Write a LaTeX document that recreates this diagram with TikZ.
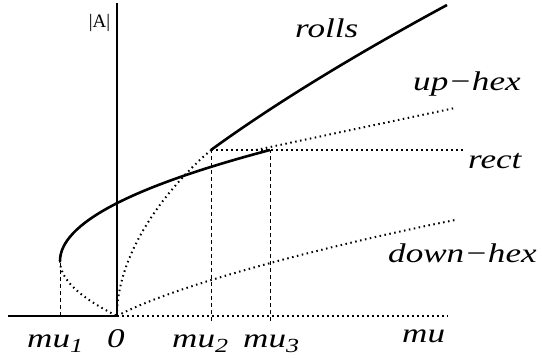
\documentclass[tikz,border=0pt]{standalone}
\usepackage{graphicx}
\usepackage{fontspec}
\setmainfont{Liberation Serif}
\newcommand\mysub[1]{\raisebox{-5pt}{\fontsize{20}{20}\selectfont #1}}
\newcommand\wide[1]{\scalebox{1.3}[1]{#1}}
\tikzset{
  solidcurve/.style={line width=2.6pt},
  dotcurve/.style={line width=2pt, dash pattern=on 1.5pt off 3.5pt},
  guide/.style={line width=0.9pt, dash pattern=on 4pt off 3pt},
  lab/.style={anchor=base west, inner sep=0pt, font=\fontsize{27}{30}\selectfont\itshape}
}
\begin{document}
\begin{tikzpicture}[x=1pt,y=-1pt]
\useasboundingbox (0,0) rectangle (543,358);
% key points
\coordinate (L) at (8,316);
\coordinate (M1) at (60,316);
\coordinate (M1t) at (60,261);
\coordinate (O) at (117,316);
\coordinate (Atop) at (117,3);
\coordinate (M2t) at (211,150);
\coordinate (M2b) at (211,321);
\coordinate (M3t) at (270,150);
\coordinate (M3b) at (270,321);
\coordinate (R) at (448,316);
\coordinate (RollE) at (447,5);
\coordinate (UpS) at (256,150);
\coordinate (UpE) at (455,108);
\coordinate (RectE) at (465,150);
\coordinate (DownE) at (455,220);
% guides
\draw[guide] (M1) -- (M1t);
\draw[guide] (M2b) -- (M2t);
\draw[guide] (M3b) -- (M3t);
% axes
\draw[line width=1.2pt] (L) -- (M1);
\draw[line width=1.5pt] (M1) -- (O);
\draw[line width=2.6pt, dash pattern=on 2pt off 2pt] (M1) -- (O);
\draw[dotcurve] (O) -- (R);
\draw[line width=2.6pt] (O) -- (Atop);
% branches
\draw[solidcurve] (M1t) .. controls (60,224) and (130,187) .. (M3t);
\draw[dotcurve] (M1t) .. controls (60,279) and (79,297) .. (O);
\draw[dotcurve] (O) .. controls (117,250) and (170,185) .. (M2t);
\draw[solidcurve] (M2t) .. controls (270,107) and (349,58) .. (RollE);
\draw[dotcurve] (M2t) -- (RectE);
\draw[dotcurve] (UpS) -- (UpE);
\draw[dotcurve] (O) .. controls (177,284) and (330,245) .. (DownE);
% labels
\node[anchor=center, inner sep=0pt, font=\fontsize{19}{20}\selectfont] (lA) at (99.5,23) {|A|};
\node[lab] (lrolls) at (295,37.5) {\wide{rolls}};
\node[lab] (lup) at (413,91) {\wide{up−hex}};
\node[lab] (lrect) at (468,168) {\wide{rect}};
\node[lab] (ldown) at (388,262) {\wide{down−hex}};
\node[lab] (lmu) at (402,342) {\wide{mu}};
\node[lab] (lmu1) at (27,347) {\wide{mu\mysub{1}}};
\node[lab] (l0) at (107,347) {\wide{0}};
\node[lab] (lmu2) at (172,347) {\wide{mu\mysub{2}}};
\node[lab] (lmu3) at (243,347) {\wide{mu\mysub{3}}};
\end{tikzpicture}
\end{document}
